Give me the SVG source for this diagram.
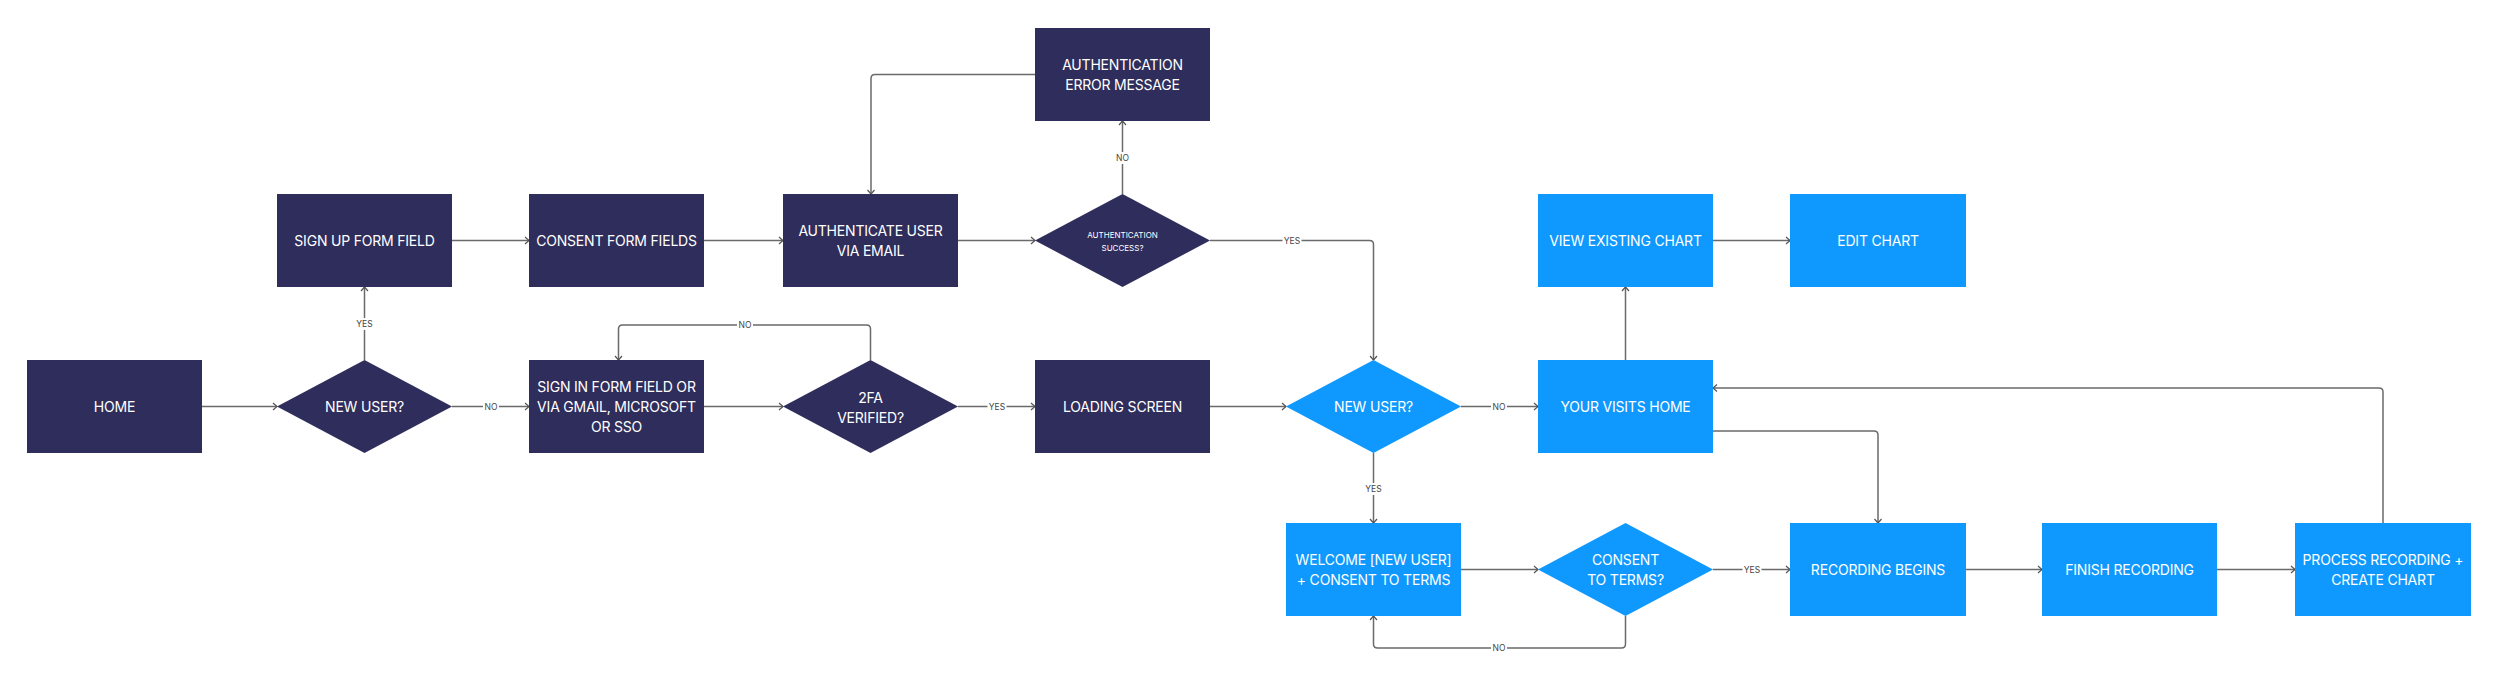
<svg xmlns="http://www.w3.org/2000/svg" width="2500" height="684" viewBox="0 0 2500 684">
<defs>
<style>
.dk{fill:#2f2d5b}
.bl{fill:#0f99fe}
.t{font-family:Inter,"Liberation Sans",sans-serif;font-size:14px;fill:#ffffff;text-anchor:middle;letter-spacing:-0.2px}
.ts{font-family:Inter,"Liberation Sans",sans-serif;font-size:8px;fill:#ffffff;text-anchor:middle}
.c{fill:none;stroke:#6a6a6a;stroke-width:1.5;marker-end:url(#ah)}
.lb{fill:#ffffff}
.lt{font-family:Inter,"Liberation Sans",sans-serif;font-size:8.5px;fill:#444444;text-anchor:middle}
</style>
<marker id="ah" viewBox="-6 -5 7 10" refX="0" refY="0" markerWidth="7" markerHeight="10" markerUnits="userSpaceOnUse" orient="auto">
<path d="M-4,-3.5 L0,0 L-4,3.5" fill="none" stroke="#555555" stroke-width="1.2"/>
</marker>
</defs>
<rect width="2500" height="684" fill="#ffffff"/>

<g id="connectors">
<path class="c" d="M202,406.5 H277"/>
<path class="c" d="M364.5,360 V287"/>
<path class="c" d="M452,406.5 H529"/>
<path class="c" d="M452,240.5 H529"/>
<path class="c" d="M704,240.5 H783"/>
<path class="c" d="M958,240.5 H1035"/>
<path class="c" d="M1122.5,194 V121"/>
<path class="c" d="M1035,74.5 H875 Q871,74.5 871,78.5 V194"/>
<path class="c" d="M1210,240.5 H1369.5 Q1373.5,240.5 1373.5,244.5 V360"/>
<path class="c" d="M704,406.5 H783"/>
<path class="c" d="M870.5,360 V329 Q870.5,325 866.5,325 H622.5 Q618.5,325 618.5,329 V360"/>
<path class="c" d="M958,406.5 H1035"/>
<path class="c" d="M1210,406.5 H1286"/>
<path class="c" d="M1461,406.5 H1538"/>
<path class="c" d="M1373.5,453 V523"/>
<path class="c" d="M1625.5,360 V287"/>
<path class="c" d="M1713,240.5 H1790"/>
<path class="c" d="M1713,431 H1874 Q1878,431 1878,435 V523"/>
<path class="c" d="M1461,569.5 H1538"/>
<path class="c" d="M1625.5,616 V644 Q1625.5,648 1621.5,648 H1377.5 Q1373.5,648 1373.5,644 V616"/>
<path class="c" d="M1713,569.5 H1790"/>
<path class="c" d="M1966,569.5 H2042"/>
<path class="c" d="M2217,569.5 H2295"/>
<path class="c" d="M2383,523 V392 Q2383,388 2379,388 H1713"/>

<rect class="lb" x="355" y="318" width="19" height="12"/><text class="lt" x="364.5" y="327">YES</text>
<rect class="lb" x="483" y="400.5" width="16" height="12"/><text class="lt" x="491" y="409.5">NO</text>
<rect class="lb" x="1114.5" y="152" width="16" height="12"/><text class="lt" x="1122.5" y="161">NO</text>
<rect class="lb" x="1282.5" y="234.5" width="19" height="12"/><text class="lt" x="1292" y="243.5">YES</text>
<rect class="lb" x="737" y="319" width="16" height="12"/><text class="lt" x="745" y="328">NO</text>
<rect class="lb" x="987.5" y="400.5" width="19" height="12"/><text class="lt" x="997" y="409.5">YES</text>
<rect class="lb" x="1491" y="400.5" width="16" height="12"/><text class="lt" x="1499" y="409.5">NO</text>
<rect class="lb" x="1364" y="483" width="19" height="12"/><text class="lt" x="1373.5" y="492">YES</text>
<rect class="lb" x="1491" y="642" width="16" height="12"/><text class="lt" x="1499" y="651">NO</text>
<rect class="lb" x="1742.5" y="563.5" width="19" height="12"/><text class="lt" x="1752" y="572.5">YES</text>
</g>

<g id="home"><rect class="dk" x="27" y="360" width="175" height="93"/><text class="t" x="114.5" y="411.5">HOME</text></g>
<g id="new-user-1"><polygon class="dk" points="364.5,360 452,406.5 364.5,453 277,406.5"/><text class="t" x="364.5" y="411.5">NEW USER?</text></g>
<g id="sign-up"><rect class="dk" x="277" y="194" width="175" height="93"/><text class="t" x="364.5" y="245.5">SIGN UP FORM FIELD</text></g>
<g id="consent-form"><rect class="dk" x="529" y="194" width="175" height="93"/><text class="t" x="616.5" y="245.5">CONSENT FORM FIELDS</text></g>
<g id="sign-in"><rect class="dk" x="529" y="360" width="175" height="93"/><text class="t" x="616.5" y="391.5">SIGN IN FORM FIELD OR</text><text class="t" x="616.5" y="411.5">VIA GMAIL, MICROSOFT</text><text class="t" x="616.5" y="431.5">OR SSO</text></g>
<g id="auth-user"><rect class="dk" x="783" y="194" width="175" height="93"/><text class="t" x="870.5" y="235.5">AUTHENTICATE USER</text><text class="t" x="870.5" y="255.5">VIA EMAIL</text></g>
<g id="twofa"><polygon class="dk" points="870.5,360 958,406.5 870.5,453 783,406.5"/><text class="t" x="870.5" y="402.5">2FA</text><text class="t" x="870.5" y="422.5">VERIFIED?</text></g>
<g id="auth-error"><rect class="dk" x="1035" y="28" width="175" height="93"/><text class="t" x="1122.5" y="69.5">AUTHENTICATION</text><text class="t" x="1122.5" y="89.5">ERROR MESSAGE</text></g>
<g id="auth-success"><polygon class="dk" points="1122.5,194 1210,240.5 1122.5,287 1035,240.5"/><text class="ts" x="1122.5" y="237.5">AUTHENTICATION</text><text class="ts" x="1122.5" y="250.5">SUCCESS?</text></g>
<g id="loading"><rect class="dk" x="1035" y="360" width="175" height="93"/><text class="t" x="1122.5" y="411.5">LOADING SCREEN</text></g>
<g id="new-user-2"><polygon class="bl" points="1373.5,360 1461,406.5 1373.5,453 1286,406.5"/><text class="t" x="1373.5" y="411.5">NEW USER?</text></g>
<g id="your-visits"><rect class="bl" x="1538" y="360" width="175" height="93"/><text class="t" x="1625.5" y="411.5">YOUR VISITS HOME</text></g>
<g id="view-chart"><rect class="bl" x="1538" y="194" width="175" height="93"/><text class="t" x="1625.5" y="245.5">VIEW EXISTING CHART</text></g>
<g id="edit-chart"><rect class="bl" x="1790" y="194" width="176" height="93"/><text class="t" x="1878" y="245.5">EDIT CHART</text></g>
<g id="welcome"><rect class="bl" x="1286" y="523" width="175" height="93"/><text class="t" x="1373.5" y="565">WELCOME [NEW USER]</text><text class="t" x="1373.5" y="585">+ CONSENT TO TERMS</text></g>
<g id="consent-terms"><polygon class="bl" points="1625.5,523 1713,569.5 1625.5,616 1538,569.5"/><text class="t" x="1625.5" y="565">CONSENT</text><text class="t" x="1625.5" y="585">TO TERMS?</text></g>
<g id="recording-begins"><rect class="bl" x="1790" y="523" width="176" height="93"/><text class="t" x="1878" y="574.5">RECORDING BEGINS</text></g>
<g id="finish-recording"><rect class="bl" x="2042" y="523" width="175" height="93"/><text class="t" x="2129.5" y="574.5">FINISH RECORDING</text></g>
<g id="process-recording"><rect class="bl" x="2295" y="523" width="176" height="93"/><text class="t" x="2383" y="565">PROCESS RECORDING +</text><text class="t" x="2383" y="585">CREATE CHART</text></g>
</svg>
